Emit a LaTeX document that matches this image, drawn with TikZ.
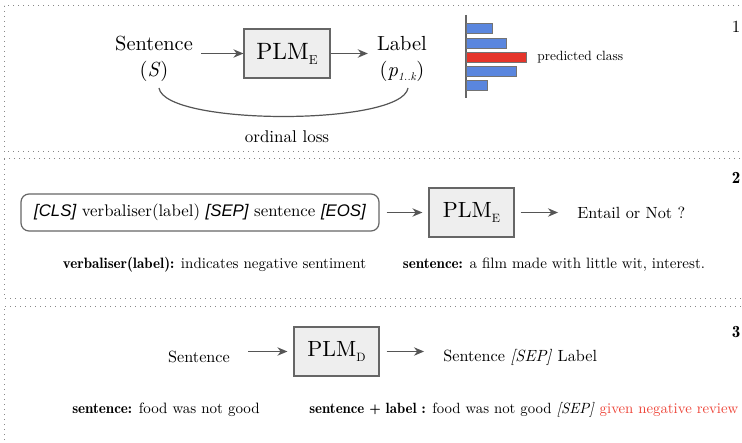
\documentclass[tikz,border=0pt]{standalone}
\usepackage{fontspec}
\setmainfont{lmroman10}[Extension=.otf, UprightFont=*-regular, ItalicFont=*-italic, BoldFont=lmromandemi10-regular, BoldItalicFont=lmromandemi10-oblique]
\setsansfont{Liberation Sans}
\usepackage{graphicx}
\usetikzlibrary{arrows.meta}
\definecolor{boxfill}{HTML}{EEEEEE}
\definecolor{boxline}{HTML}{666666}
\definecolor{arrgray}{HTML}{555555}
\definecolor{barblue}{HTML}{5A86DE}
\definecolor{barred}{HTML}{E5352B}
\definecolor{negred}{HTML}{EE4438}
\definecolor{panelgray}{HTML}{888888}
\newcommand\lowsub[1]{\raisebox{-0.5ex}{\scalebox{0.55}{#1}}}
\newcommand\fsz[1]{\fontsize{#1}{#1}\selectfont}
\begin{document}
\begin{tikzpicture}[x=0.5pt,y=-0.5pt,
  panel/.style={draw=panelgray, dotted, line width=0.5pt},
  plmbox/.style={draw=boxline, fill=boxfill, line width=0.6pt, minimum width=42.5pt, minimum height=24.5pt, inner sep=0pt},
  arr/.style={-{Stealth[length=5pt,width=4.2pt]}, draw=arrgray, line width=0.6pt},
  txt/.style={inner sep=0pt, text=black},
  bigtxt/.style={txt, font=\fsz{10}},
  midtxt/.style={txt, font=\fsz{8.1}},
  smalltxt/.style={txt, font=\fsz{7.5}},
  num/.style={txt, font=\fsz{8.5}},
  bar/.style={draw=black!55, line width=0.4pt},
]
\useasboundingbox (0,0) rectangle (742,443);
\fill[white] (0,0) rectangle (742,443);
% panels
\draw[panel] (4,6) rectangle (748,152);
\draw[panel] (4,159) rectangle (748,298);
\draw[panel] (4,460) -- (4,306) -- (748,306);

% ---------- panel 1
\node[bigtxt, align=center, font=\fontsize{10.2}{13}\selectfont] (s1) at (154,59) {Sentence\\(\textit{S})};
\node[plmbox, minimum width=43pt, font=\fsz{11.8}] (p1) at (287,53.5) {PLM\lowsub{E}};
\node[bigtxt, align=center, font=\fontsize{10.2}{13}\selectfont] (l1) at (402,59) {Label\\(\textit{p}\lowsub{\textit{1..k}})};
\draw[arr, shorten <=4pt] (s1.east |- p1.west) -- (p1.west);
\draw[arr, shorten >=4.5pt] (p1.east) -- (l1.west |- p1.east);
\coordinate (a1) at (159,88);
\coordinate (a2) at (408,88);
\draw[draw=arrgray, line width=0.6pt] (a1) .. controls (165,126) and (402,126) .. (a2);
\node[txt, font=\fsz{8.5}] (ol) at (287,137) {ordinal loss};
% histogram
\coordinate (h0) at (466,15);
\coordinate (h1) at (466,98);
\draw[draw=black!60, line width=0.6pt] (h0) -- (h1);
\draw[bar, fill=barblue] (466.5,23) rectangle (492,33);
\draw[bar, fill=barblue] (466.5,38) rectangle (506,48);
\draw[bar, fill=barred] (466.5,52) rectangle (526,62);
\draw[bar, fill=barblue] (466.5,66) rectangle (516,76);
\draw[bar, fill=barblue] (466.5,80) rectangle (487,90);
\node[txt, font=\fsz{6.7}, anchor=west] (pc) at (537,57) {predicted class};
\node[num] (n1) at (736,27) {1};

% ---------- panel 2
\node[draw=boxline, rounded corners=4pt, line width=0.6pt, minimum width=179pt, minimum height=18.5pt, inner sep=0pt, font=\fsz{8.4}] (cls) at (200,212.5)
  {{\sffamily\itshape [CLS]} verbaliser(label) {\sffamily\itshape [SEP]} sentence {\sffamily\itshape [EOS]}};
\node[plmbox, font=\fsz{11}] (p2) at (471.5,212.5) {PLM\lowsub{E}};
\node[midtxt, anchor=west] (ent) at (577,213) {Entail or Not ?};
\draw[arr, shorten <=3.5pt, shorten >=3pt] (cls.east) -- (p2.west);
\draw[arr, shorten <=3pt, shorten >=9.5pt] (p2.east) -- (ent.west |- p2.east);
\node[smalltxt] (v2) at (214.5,265) {\textbf{verbaliser(label):} indicates negative sentiment};
\node[smalltxt] (e2) at (554,265) {\textbf{sentence:} a film made with little wit, interest.};
\node[num, font=\bfseries\fsz{8.5}] (n2) at (736,178) {2};

% ---------- panel 3
\node[midtxt] (s3) at (199,357) {Sentence};
\node[plmbox, font=\fsz{11}] (p3) at (336.5,351.5) {PLM\lowsub{D}};
\node[midtxt, anchor=west] (o3) at (443,357) {Sentence \textit{[SEP]} Label};
\draw[arr, shorten <=9pt, shorten >=3pt] (s3.east |- p3.west) -- (p3.west);
\draw[arr, shorten <=3.5pt, shorten >=9.5pt] (p3.east) -- (o3.west |- p3.east);
\node[smalltxt] (b3a) at (166,410) {\textbf{sentence:} food was not good};
\node[smalltxt, font=\fsz{7.4}, anchor=west] (b3b) at (309,410) {\textbf{sentence + label :} food was not good \textit{[SEP]} \textcolor{negred}{given negative review}};
\node[num, font=\bfseries\fsz{8.5}] (n3) at (736,332) {3};
\end{tikzpicture}
\end{document}
